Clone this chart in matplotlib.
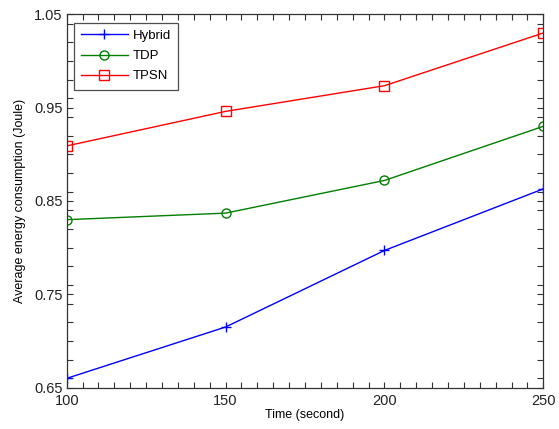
import matplotlib
matplotlib.use("Agg")
import matplotlib.pyplot as plt
from matplotlib.ticker import MultipleLocator

plt.rcParams['font.family'] = ['Liberation Sans', 'DejaVu Sans']

time_s = [100, 150, 200, 250]
hybrid = [0.660, 0.715, 0.797, 0.863]
tdp = [0.830, 0.837, 0.872, 0.930]
tpsn = [0.909, 0.946, 0.9735, 1.030]

x_ticks = [100, 150, 200, 250]
y_ticks = [0.65, 0.75, 0.85, 0.95, 1.05]
y_tick_labels = ['0.65', '0.75', '0.85', '0.95', '1.05']

fig = plt.figure(figsize=(5.59, 4.29), dpi=100)
ax = fig.add_axes([66.7 / 559, 1 - 387.7 / 429, (543.3 - 66.7) / 559, (387.7 - 14.3) / 429])

ax.plot(time_s, hybrid, color='#0000ff', lw=1.0, marker='+', ms=7, mew=1.0, label='Hybrid')
ax.plot(time_s, tdp, color='#007f00', lw=1.0, marker='o', ms=6.5, mfc='none', mew=1.0, label='TDP')
ax.plot(time_s, tpsn, color='#ff0000', lw=1.0, marker='s', ms=7, mfc='none', mew=1.0, label='TPSN')

ax.set_xlim(100, 250)
ax.set_ylim(0.65, 1.05)
ax.set_xticks(x_ticks)
ax.set_xticklabels([str(v) for v in x_ticks])
ax.set_yticks(y_ticks)
ax.set_yticklabels(y_tick_labels)
ax.xaxis.set_minor_locator(MultipleLocator(5))
ax.yaxis.set_minor_locator(MultipleLocator(0.02))

ax.tick_params(which='both', direction='in', top=True, right=True, length=4.5, width=0.8,
               color='#333333', labelsize=10.5, labelcolor='#222222', pad=3)
ax.tick_params(axis='x', which='major', pad=4.5)
for s in ax.spines.values():
    s.set_linewidth(0.9)
    s.set_color('#333333')

ax.set_xlabel('Time (second)', fontsize=9, labelpad=1)
ax.set_ylabel('Average energy consumption (Joule)', fontsize=9, labelpad=6)

leg = ax.legend(loc='upper left', bbox_to_anchor=(0.0155, 0.978), fontsize=9.5,
                frameon=True, fancybox=False, edgecolor='#222222', handlelength=3.5,
                borderpad=0.55, labelspacing=0.6, handletextpad=0.4, borderaxespad=0)
leg.get_frame().set_linewidth(0.9)

fig.savefig('out.png', dpi=100)
